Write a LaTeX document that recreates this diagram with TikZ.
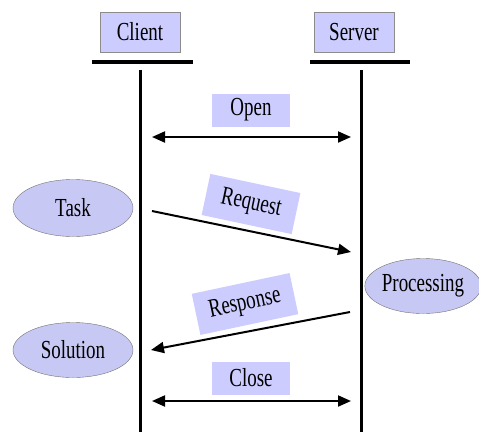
\documentclass[tikz,border=0pt]{standalone}
\usepackage{fontspec}
\setmainfont{Liberation Serif}
\usetikzlibrary{arrows.meta,shapes.geometric}
\definecolor{lav}{RGB}{204,204,255}
\definecolor{lavE}{RGB}{200,200,245}
\newcommand{\nt}[1]{\scalebox{0.73}[1]{#1}}
\tikzset{
  txt/.style={font=\fontsize{26}{28}\selectfont},
  hdr/.style={txt, draw=black!45, fill=lav, minimum width=80pt, minimum height=40pt, inner sep=0pt},
  lbl/.style={txt, fill=lav, minimum width=78pt, minimum height=33pt, inner sep=0pt},
  rlbl/.style={txt, fill=lav, minimum width=92pt, minimum height=42pt, inner sep=0pt},
  oval/.style={txt, draw=black!55, fill=lavE, ellipse, inner sep=0pt},
  bar/.style={line width=4pt},
  life/.style={line width=3pt},
  msg/.style={line width=2pt, -{Triangle[length=13pt,width=11pt]}},
  bimsg/.style={line width=2pt, {Triangle[length=13pt,width=11pt]}-{Triangle[length=13pt,width=11pt]}}
}
\begin{document}
\begin{tikzpicture}[x=1pt,y=-1pt]
\useasboundingbox (0,0) rectangle (479,432);
\node[hdr] (client) at (140,32) {\nt{Client}};
\node[hdr] (server) at (354,32) {\nt{Server}};
\coordinate (cbl) at (92,62); \coordinate (cbr) at (193,62);
\coordinate (sbl) at (310,62); \coordinate (sbr) at (410,62);
\draw[bar] (cbl) -- (cbr);
\draw[bar] (sbl) -- (sbr);
\coordinate (ctop) at (140,70); \coordinate (cbot) at (140,432);
\coordinate (stop) at (361,70); \coordinate (sbot) at (361,432);
\draw[life] (ctop) -- (cbot);
\draw[life] (stop) -- (sbot);
% Open
\node[lbl] (open) at (251,110) {\nt{Open}};
\coordinate (o1) at (152,137); \coordinate (o2) at (351,137);
\draw[bimsg] (o1) -- (o2);
% Task
\node[oval, minimum width=120pt, minimum height=57pt] (task) at (73,208) {\nt{Task}};
\node[rlbl, rotate=-12] (request) at (251,204) {\nt{Request}};
\coordinate (r1) at (152,211); \coordinate (r2) at (351,252);
\draw[msg] (r1) -- (r2);
% Processing
\node[oval, minimum width=110pt, minimum height=55pt] (proc) at (423,286) {\nt{Processing}};
\node[rlbl, minimum width=100pt, rotate=12] (response) at (245,304) {\nt{Response}};
\coordinate (p1) at (350,312); \coordinate (p2) at (151,350);
\draw[msg] (p1) -- (p2);
% Solution
\node[oval, minimum width=120pt, minimum height=55pt] (sol) at (73,350) {\nt{Solution}};
% Close
\node[lbl] (close) at (251,378) {\nt{Close}};
\coordinate (k1) at (152,401); \coordinate (k2) at (351,401);
\draw[bimsg] (k1) -- (k2);
\end{tikzpicture}
\end{document}
